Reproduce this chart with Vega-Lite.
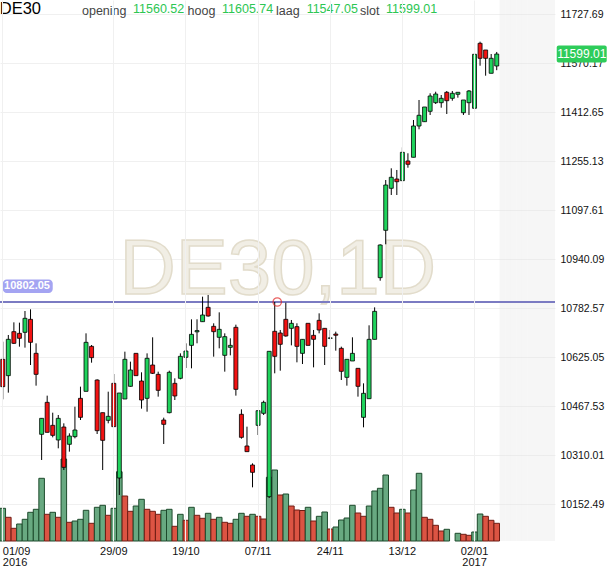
{
  "$schema": "https://vega.github.io/schema/vega-lite/v6.json",
  "width": 555,
  "height": 541,
  "autosize": "none",
  "padding": {"left": 0, "top": 0, "right": 55, "bottom": 27},
  "config": {
    "view": {"stroke": null},
    "font": "Liberation Sans",
    "axis": {"gridColor": "#f0f0f0", "gridWidth": 1, "domain": false, "ticks": false, "title": null, "labelColor": "#111111", "labelFont": "Liberation Sans"}
  },
  "datasets": {
    "candles": [
      {"date": "2016-09-01", "open": 10617.7, "high": 10674.4, "low": 10489.1, "close": 10529.8, "volume": 32700},
      {"date": "2016-09-02", "open": 10565.2, "high": 10695.9, "low": 10510.5, "close": 10682.0, "volume": 23700},
      {"date": "2016-09-05", "open": 10706.6, "high": 10736.6, "low": 10667.0, "close": 10669.1, "volume": 12700},
      {"date": "2016-09-06", "open": 10701.2, "high": 10735.5, "low": 10658.4, "close": 10685.2, "volume": 17000},
      {"date": "2016-09-07", "open": 10704.5, "high": 10773.0, "low": 10655.2, "close": 10749.5, "volume": 21700},
      {"date": "2016-09-08", "open": 10746.2, "high": 10778.4, "low": 10599.4, "close": 10672.3, "volume": 28700},
      {"date": "2016-09-09", "open": 10637.0, "high": 10669.1, "low": 10533.0, "close": 10569.4, "volume": 31700},
      {"date": "2016-09-12", "open": 10376.6, "high": 10428.0, "low": 10294.1, "close": 10428.0, "volume": 62700},
      {"date": "2016-09-13", "open": 10479.4, "high": 10500.9, "low": 10383.0, "close": 10383.0, "volume": 26700},
      {"date": "2016-09-14", "open": 10405.5, "high": 10446.2, "low": 10366.9, "close": 10373.3, "volume": 28700},
      {"date": "2016-09-15", "open": 10358.4, "high": 10438.7, "low": 10331.6, "close": 10428.0, "volume": 23700},
      {"date": "2016-09-16", "open": 10400.1, "high": 10411.9, "low": 10261.9, "close": 10270.5, "volume": 82000},
      {"date": "2016-09-19", "open": 10344.5, "high": 10379.8, "low": 10320.9, "close": 10371.2, "volume": 18700},
      {"date": "2016-09-20", "open": 10369.1, "high": 10465.5, "low": 10363.7, "close": 10390.5, "volume": 20000},
      {"date": "2016-09-21", "open": 10492.3, "high": 10529.8, "low": 10422.6, "close": 10431.2, "volume": 21700},
      {"date": "2016-09-22", "open": 10514.8, "high": 10701.2, "low": 10514.8, "close": 10672.3, "volume": 30700},
      {"date": "2016-09-23", "open": 10659.4, "high": 10663.7, "low": 10606.9, "close": 10623.0, "volume": 17700},
      {"date": "2016-09-26", "open": 10551.2, "high": 10553.4, "low": 10377.6, "close": 10388.3, "volume": 33700},
      {"date": "2016-09-27", "open": 10446.2, "high": 10446.2, "low": 10261.9, "close": 10357.3, "volume": 35700},
      {"date": "2016-09-28", "open": 10421.6, "high": 10513.7, "low": 10411.9, "close": 10434.4, "volume": 25700},
      {"date": "2016-09-29", "open": 10540.5, "high": 10570.5, "low": 10401.2, "close": 10401.2, "volume": 32700},
      {"date": "2016-09-30", "open": 10236.2, "high": 10509.4, "low": 10181.6, "close": 10509.4, "volume": 69300},
      {"date": "2016-10-04", "open": 10490.1, "high": 10642.3, "low": 10490.1, "close": 10617.7, "volume": 45000},
      {"date": "2016-10-05", "open": 10530.9, "high": 10610.2, "low": 10529.8, "close": 10583.4, "volume": 29700},
      {"date": "2016-10-06", "open": 10636.9, "high": 10636.9, "low": 10565.2, "close": 10565.2, "volume": 35000},
      {"date": "2016-10-07", "open": 10548.0, "high": 10575.9, "low": 10459.1, "close": 10486.9, "volume": 41700},
      {"date": "2016-10-10", "open": 10492.3, "high": 10636.9, "low": 10449.4, "close": 10620.9, "volume": 31700},
      {"date": "2016-10-11", "open": 10599.4, "high": 10688.4, "low": 10570.5, "close": 10572.7, "volume": 29700},
      {"date": "2016-10-12", "open": 10569.4, "high": 10578.0, "low": 10497.7, "close": 10518.0, "volume": 26700},
      {"date": "2016-10-13", "open": 10422.6, "high": 10430.1, "low": 10345.5, "close": 10408.7, "volume": 30700},
      {"date": "2016-10-14", "open": 10446.2, "high": 10581.2, "low": 10444.1, "close": 10575.9, "volume": 31700},
      {"date": "2016-10-17", "open": 10540.5, "high": 10556.6, "low": 10486.9, "close": 10499.8, "volume": 14700},
      {"date": "2016-10-18", "open": 10556.6, "high": 10636.9, "low": 10553.4, "close": 10627.3, "volume": 26700},
      {"date": "2016-10-19", "open": 10624.1, "high": 10669.1, "low": 10589.8, "close": 10644.4, "volume": 20700},
      {"date": "2016-10-20", "open": 10662.6, "high": 10746.2, "low": 10588.7, "close": 10698.0, "volume": 33700},
      {"date": "2016-10-21", "open": 10706.0, "high": 10746.3, "low": 10669.2, "close": 10710.0, "volume": 25700},
      {"date": "2016-10-24", "open": 10738.7, "high": 10819.1, "low": 10738.7, "close": 10760.2, "volume": 22700},
      {"date": "2016-10-25", "open": 10784.8, "high": 10824.5, "low": 10754.8, "close": 10756.9, "volume": 27700},
      {"date": "2016-10-26", "open": 10723.7, "high": 10733.4, "low": 10626.2, "close": 10706.6, "volume": 21700},
      {"date": "2016-10-27", "open": 10688.4, "high": 10768.7, "low": 10653.0, "close": 10714.1, "volume": 23700},
      {"date": "2016-10-28", "open": 10630.5, "high": 10701.2, "low": 10578.0, "close": 10690.5, "volume": 18700},
      {"date": "2016-10-31", "open": 10656.2, "high": 10685.2, "low": 10630.5, "close": 10662.6, "volume": 17700},
      {"date": "2016-11-01", "open": 10720.5, "high": 10729.1, "low": 10500.9, "close": 10521.2, "volume": 21700},
      {"date": "2016-11-02", "open": 10440.9, "high": 10456.9, "low": 10362.6, "close": 10366.9, "volume": 27700},
      {"date": "2016-11-03", "open": 10339.1, "high": 10401.2, "low": 10320.9, "close": 10320.9, "volume": 24700},
      {"date": "2016-11-04", "open": 10278.0, "high": 10283.3, "low": 10206.2, "close": 10254.4, "volume": 26700},
      {"date": "2016-11-07", "open": 10405.5, "high": 10452.6, "low": 10374.4, "close": 10452.6, "volume": 24700},
      {"date": "2016-11-08", "open": 10444.1, "high": 10484.8, "low": 10438.7, "close": 10479.4, "volume": 22000},
      {"date": "2016-11-09", "open": 10176.1, "high": 10643.4, "low": 10172.0, "close": 10643.4, "volume": 63700},
      {"date": "2016-11-10", "open": 10707.7, "high": 10802.05, "low": 10572.7, "close": 10627.3, "volume": 71000},
      {"date": "2016-11-11", "open": 10702.3, "high": 10712.0, "low": 10581.2, "close": 10665.9, "volume": 46000},
      {"date": "2016-11-14", "open": 10746.2, "high": 10799.8, "low": 10690.5, "close": 10692.7, "volume": 47000},
      {"date": "2016-11-15", "open": 10717.3, "high": 10744.1, "low": 10662.6, "close": 10733.4, "volume": 35000},
      {"date": "2016-11-16", "open": 10722.7, "high": 10733.4, "low": 10608.0, "close": 10659.4, "volume": 31000},
      {"date": "2016-11-17", "open": 10636.9, "high": 10681.9, "low": 10602.6, "close": 10681.9, "volume": 30500},
      {"date": "2016-11-18", "open": 10733.4, "high": 10733.4, "low": 10662.6, "close": 10662.6, "volume": 33700},
      {"date": "2016-11-21", "open": 10694.8, "high": 10712.0, "low": 10591.9, "close": 10682.0, "volume": 20000},
      {"date": "2016-11-22", "open": 10743.0, "high": 10765.5, "low": 10701.2, "close": 10711.9, "volume": 24700},
      {"date": "2016-11-23", "open": 10717.3, "high": 10717.3, "low": 10599.4, "close": 10659.4, "volume": 29000},
      {"date": "2016-11-24", "open": 10685.2, "high": 10712.0, "low": 10682.0, "close": 10686.5, "volume": 12000},
      {"date": "2016-11-25", "open": 10699.0, "high": 10706.6, "low": 10645.5, "close": 10695.0, "volume": 14000},
      {"date": "2016-11-28", "open": 10653.0, "high": 10658.4, "low": 10551.2, "close": 10579.1, "volume": 21000},
      {"date": "2016-11-29", "open": 10559.8, "high": 10617.7, "low": 10533.0, "close": 10617.7, "volume": 23000},
      {"date": "2016-11-30", "open": 10612.3, "high": 10688.4, "low": 10612.3, "close": 10636.9, "volume": 35700},
      {"date": "2016-12-01", "open": 10588.7, "high": 10588.7, "low": 10497.7, "close": 10530.9, "volume": 28000},
      {"date": "2016-12-02", "open": 10431.2, "high": 10540.5, "low": 10399.1, "close": 10508.4, "volume": 24700},
      {"date": "2016-12-05", "open": 10491.2, "high": 10727.0, "low": 10491.2, "close": 10681.9, "volume": 35000},
      {"date": "2016-12-06", "open": 10681.9, "high": 10784.8, "low": 10681.9, "close": 10771.9, "volume": 50000},
      {"date": "2016-12-07", "open": 10880.1, "high": 10987.4, "low": 10870.4, "close": 10985.2, "volume": 52700},
      {"date": "2016-12-08", "open": 11032.4, "high": 11194.1, "low": 10987.4, "close": 11178.0, "volume": 66000},
      {"date": "2016-12-09", "open": 11167.4, "high": 11231.7, "low": 11145.9, "close": 11202.8, "volume": 33700},
      {"date": "2016-12-12", "open": 11197.3, "high": 11226.3, "low": 11145.9, "close": 11188.6, "volume": 28000},
      {"date": "2016-12-13", "open": 11191.9, "high": 11299.2, "low": 11191.9, "close": 11283.1, "volume": 31700},
      {"date": "2016-12-14", "open": 11255.2, "high": 11280.0, "low": 11233.6, "close": 11244.6, "volume": 28000},
      {"date": "2016-12-15", "open": 11267.1, "high": 11387.0, "low": 11267.1, "close": 11367.7, "volume": 51000},
      {"date": "2016-12-16", "open": 11367.7, "high": 11451.3, "low": 11357.1, "close": 11402.1, "volume": 67700},
      {"date": "2016-12-19", "open": 11381.5, "high": 11428.8, "low": 11381.5, "close": 11428.8, "volume": 23700},
      {"date": "2016-12-20", "open": 11414.9, "high": 11472.8, "low": 11403.1, "close": 11464.1, "volume": 21700},
      {"date": "2016-12-21", "open": 11442.6, "high": 11477.9, "low": 11438.4, "close": 11470.5, "volume": 15700},
      {"date": "2016-12-22", "open": 11442.6, "high": 11467.3, "low": 11426.5, "close": 11456.7, "volume": 10000},
      {"date": "2016-12-23", "open": 11476.0, "high": 11480.2, "low": 11406.3, "close": 11449.0, "volume": 11700},
      {"date": "2016-12-27", "open": 11456.7, "high": 11480.2, "low": 11449.0, "close": 11472.8, "volume": null},
      {"date": "2016-12-28", "open": 11469.6, "high": 11476.0, "low": 11458.7, "close": 11476.0, "volume": 7700},
      {"date": "2016-12-29", "open": 11410.4, "high": 11451.3, "low": 11403.1, "close": 11451.3, "volume": 6700},
      {"date": "2016-12-30", "open": 11442.6, "high": 11483.4, "low": 11403.1, "close": 11480.2, "volume": 5700},
      {"date": "2017-01-02", "open": 11424.6, "high": 11617.4, "low": 11413.7, "close": 11598.2, "volume": 9000},
      {"date": "2017-01-03", "open": 11633.5, "high": 11638.7, "low": 11561.5, "close": 11585.3, "volume": 27000},
      {"date": "2017-01-04", "open": 11612.0, "high": 11612.0, "low": 11529.4, "close": 11585.3, "volume": 24700},
      {"date": "2017-01-05", "open": 11537.1, "high": 11599.1, "low": 11537.1, "close": 11585.3, "volume": 20700},
      {"date": "2017-01-06", "open": 11560.52, "high": 11605.74, "low": 11547.05, "close": 11599.01, "volume": 17700}
    ],
    "future": [
      {"date": "2017-01-09"}, {"date": "2017-01-10"}, {"date": "2017-01-11"}, {"date": "2017-01-12"}, {"date": "2017-01-13"},
      {"date": "2017-01-16"}, {"date": "2017-01-17"}, {"date": "2017-01-18"}, {"date": "2017-01-19"}, {"date": "2017-01-20"}
    ]
  },
  "resolve": {"scale": {"y": "independent"}},
  "layer": [
    {
      "data": {"name": "future"},
      "mark": {"type": "rect", "color": "#e6e6e6", "opacity": 0.35},
      "encoding": {
        "x": {
          "field": "date",
          "type": "ordinal",
          "scale": {"type": "band", "paddingInner": 0, "paddingOuter": 0},
          "axis": {
            "values": ["2016-09-01", "2016-09-29", "2016-10-19", "2016-11-07", "2016-11-24", "2016-12-13", "2017-01-02"],
            "labelExpr": "(datum.value == '2016-09-01' || datum.value == '2017-01-02') ? [substring(datum.value, 8, 10) + '/' + substring(datum.value, 5, 7), substring(datum.value, 0, 4)] : substring(datum.value, 8, 10) + '/' + substring(datum.value, 5, 7)",
            "labelAngle": 0,
            "labelFontSize": 11,
            "labelLineHeight": 11,
            "labelPadding": 4,
            "labelFlush": 5,
            "bandPosition": 0.5,
            "grid": true
          }
        }
      }
    },
    {
      "data": {"name": "candles"},
      "transform": [
        {"window": [{"op": "lag", "field": "volume", "as": "prev"}], "sort": [{"field": "date"}]}
      ],
      "mark": {"type": "bar", "width": {"band": 1}, "strokeWidth": 1},
      "encoding": {
        "x": {"field": "date", "type": "ordinal"},
        "y": {"field": "volume", "type": "quantitative", "scale": {"domain": [0, 541000]}, "axis": null},
        "color": {
          "condition": {"test": "datum.prev == null || datum.volume >= datum.prev", "value": "#68a981"},
          "value": "#dc5443"
        },
        "stroke": {
          "condition": {"test": "datum.prev == null || datum.volume >= datum.prev", "value": "#1d4a2c"},
          "value": "#6e1c14"
        }
      }
    },
    {
      "layer": [
        {
          "data": {"values": [{}]},
          "mark": {"type": "text", "text": "DE30,1D", "font": "Liberation Sans", "fontSize": 78, "fill": "#f1eee5", "stroke": "#e2dccb", "strokeWidth": 1.5, "align": "center", "baseline": "alphabetic", "dx": 3},
          "encoding": {
            "x": {"datum": "2016-11-10", "type": "ordinal"},
            "y": {"datum": 10827.7, "type": "quantitative"}
          }
        },
        {
          "data": {"values": [{}]},
          "mark": {"type": "rule", "color": "#7b7bc2", "strokeWidth": 2},
          "encoding": {
            "y": {"datum": 10802.05, "type": "quantitative"}
          }
        },
        {
          "data": {"name": "candles"},
          "mark": {"type": "rule", "color": "#000000", "strokeWidth": 1},
          "encoding": {
            "x": {"field": "date", "type": "ordinal"},
            "y": {
              "field": "low",
              "type": "quantitative",
              "scale": {"domain": [10033.7, 11772.7], "zero": false, "nice": false},
              "axis": {
                "orient": "right",
                "values": [10152.49, 10310.01, 10467.53, 10625.05, 10782.57, 10940.09, 11097.61, 11255.13, 11412.65, 11570.17, 11727.69],
                "format": ".2f",
                "labelFontSize": 10.5,
                "labelPadding": 5,
                "grid": true
              }
            },
            "y2": {"field": "high"}
          }
        },
        {
          "data": {"name": "candles"},
          "mark": {"type": "bar", "width": 4, "stroke": "#000000", "strokeWidth": 0.8},
          "encoding": {
            "x": {"field": "date", "type": "ordinal"},
            "y": {"field": "open", "type": "quantitative"},
            "y2": {"field": "close"},
            "color": {
              "condition": {"test": "datum.close >= datum.open", "value": "#1fd35c"},
              "value": "#f21212"
            }
          }
        },
        {
          "data": {"values": [{}]},
          "mark": {"type": "rect", "color": "#a4a4f2", "cornerRadius": 4},
          "encoding": {
            "x": {"datum": "2016-09-01", "type": "ordinal"},
            "x2": {"datum": "2016-09-14"},
            "y": {"datum": 10874.3, "type": "quantitative"},
            "y2": {"datum": 10830.9}
          }
        },
        {
          "data": {"values": [{}]},
          "mark": {"type": "text", "text": "10802.05", "fontSize": 11, "fontWeight": "bold", "color": "#ffffff", "align": "center", "baseline": "middle", "dx": 2},
          "encoding": {
            "x": {"datum": "2016-09-07", "type": "ordinal"},
            "y": {"datum": 10852.0, "type": "quantitative"}
          }
        },
        {
          "data": {"values": [{}]},
          "mark": {"type": "point", "shape": "circle", "size": 70, "filled": false, "color": "#e02020", "strokeWidth": 1.3, "xOffset": 2.5},
          "encoding": {
            "x": {"datum": "2016-11-10", "type": "ordinal"},
            "y": {"datum": 10802.05, "type": "quantitative"}
          }
        },
        {
          "data": {"values": [{}]},
          "mark": {"type": "text", "text": "DE30", "fontSize": 16.5, "color": "#000000", "align": "left", "baseline": "alphabetic", "dx": -3},
          "encoding": {"x": {"datum": "2016-09-01", "type": "ordinal"}, "y": {"datum": 11726.1, "type": "quantitative"}}
        },
        {
          "data": {"values": [{}]},
          "mark": {"type": "text", "text": "opening", "fontSize": 12.5, "color": "#444444", "align": "left", "baseline": "alphabetic", "dx": 1.5},
          "encoding": {"x": {"datum": "2016-09-21", "type": "ordinal"}, "y": {"datum": 11724.5, "type": "quantitative"}}
        },
        {
          "data": {"values": [{}]},
          "mark": {"type": "text", "text": "11560.52", "fontSize": 12.5, "color": "#2dc653", "align": "left", "baseline": "alphabetic", "dx": 2.6},
          "encoding": {"x": {"datum": "2016-10-05", "type": "ordinal"}, "y": {"datum": 11732.5, "type": "quantitative"}}
        },
        {
          "data": {"values": [{}]},
          "mark": {"type": "text", "text": "hoog", "fontSize": 12.5, "color": "#444444", "align": "left", "baseline": "alphabetic", "dx": 1.6},
          "encoding": {"x": {"datum": "2016-10-19", "type": "ordinal"}, "y": {"datum": 11724.5, "type": "quantitative"}}
        },
        {
          "data": {"values": [{}]},
          "mark": {"type": "text", "text": "11605.74", "fontSize": 12.5, "color": "#2dc653", "align": "left", "baseline": "alphabetic", "dx": 2.8},
          "encoding": {"x": {"datum": "2016-10-27", "type": "ordinal"}, "y": {"datum": 11732.5, "type": "quantitative"}}
        },
        {
          "data": {"values": [{}]},
          "mark": {"type": "text", "text": "laag", "fontSize": 12.5, "color": "#444444", "align": "left", "baseline": "alphabetic", "dx": 1.3},
          "encoding": {"x": {"datum": "2016-11-10", "type": "ordinal"}, "y": {"datum": 11724.5, "type": "quantitative"}}
        },
        {
          "data": {"values": [{}]},
          "mark": {"type": "text", "text": "11547.05", "fontSize": 12.5, "color": "#2dc653", "align": "left", "baseline": "alphabetic", "dx": -1.4},
          "encoding": {"x": {"datum": "2016-11-18", "type": "ordinal"}, "y": {"datum": 11732.5, "type": "quantitative"}}
        },
        {
          "data": {"values": [{}]},
          "mark": {"type": "text", "text": "slot", "fontSize": 12.5, "color": "#444444", "align": "left", "baseline": "alphabetic", "dx": 2},
          "encoding": {"x": {"datum": "2016-12-01", "type": "ordinal"}, "y": {"datum": 11724.5, "type": "quantitative"}}
        },
        {
          "data": {"values": [{}]},
          "mark": {"type": "text", "text": "11599.01", "fontSize": 12.5, "color": "#2dc653", "align": "left", "baseline": "alphabetic", "dx": 0.3},
          "encoding": {"x": {"datum": "2016-12-08", "type": "ordinal"}, "y": {"datum": 11732.5, "type": "quantitative"}}
        },
        {
          "data": {"values": [{}]},
          "mark": {"type": "rect", "color": "#2ecc5a", "cornerRadius": 2, "xOffset": 60, "x2Offset": 110, "yOffset": -8.5, "y2Offset": 8.5},
          "encoding": {
            "x": {"datum": "2017-01-06", "type": "ordinal"},
            "x2": {"datum": "2017-01-06"},
            "y": {"datum": 11599.01, "type": "quantitative"},
            "y2": {"datum": 11599.01}
          }
        },
        {
          "data": {"values": [{}]},
          "mark": {"type": "text", "text": "11599.01", "fontSize": 12, "color": "#ffffff", "align": "center", "baseline": "middle", "dx": 85},
          "encoding": {"x": {"datum": "2017-01-06", "type": "ordinal"}, "y": {"datum": 11599.01, "type": "quantitative"}}
        }
      ]
    }
  ]
}
